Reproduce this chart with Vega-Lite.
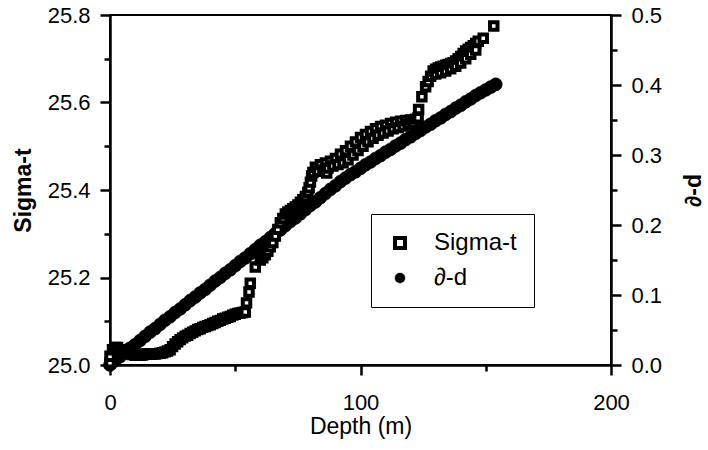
{
  "$schema": "https://vega.github.io/schema/vega-lite/v6.json",
  "autosize": "none",
  "width": 501,
  "height": 350,
  "padding": {"left": 110, "top": 15, "right": 97, "bottom": 85},
  "background": "white",
  "config": {
    "view": {"stroke": "black", "strokeWidth": 2},
    "font": "Liberation Sans",
    "axis": {
      "domainColor": "black", "domainWidth": 2.5, "tickColor": "black", "tickWidth": 2.5,
      "labelFont": "Liberation Sans", "labelFontSize": 22, "labelColor": "black",
      "titleFont": "Liberation Sans", "titleFontSize": 23, "titleColor": "black",
      "grid": false
    }
  },
  "datasets": {
    "sigma": [
      {"depth": 0, "sigma": 25.005}, {"depth": 0, "sigma": 25.02}, {"depth": 1, "sigma": 25.035}, {"depth": 2, "sigma": 25.04},
      {"depth": 3, "sigma": 25.04}, {"depth": 4, "sigma": 25.035}, {"depth": 5, "sigma": 25.03}, {"depth": 6, "sigma": 25.028},
      {"depth": 7, "sigma": 25.026}, {"depth": 8, "sigma": 25.025}, {"depth": 9, "sigma": 25.024}, {"depth": 10, "sigma": 25.022},
      {"depth": 11, "sigma": 25.022}, {"depth": 12, "sigma": 25.022}, {"depth": 13, "sigma": 25.023}, {"depth": 14, "sigma": 25.025},
      {"depth": 15, "sigma": 25.025}, {"depth": 16, "sigma": 25.025}, {"depth": 17, "sigma": 25.025}, {"depth": 18, "sigma": 25.025},
      {"depth": 19, "sigma": 25.026}, {"depth": 20, "sigma": 25.027}, {"depth": 21, "sigma": 25.028}, {"depth": 22, "sigma": 25.03},
      {"depth": 23, "sigma": 25.032}, {"depth": 24, "sigma": 25.035}, {"depth": 25, "sigma": 25.042}, {"depth": 26, "sigma": 25.048},
      {"depth": 27, "sigma": 25.053}, {"depth": 28, "sigma": 25.058}, {"depth": 29, "sigma": 25.062}, {"depth": 30, "sigma": 25.066},
      {"depth": 31, "sigma": 25.068}, {"depth": 32, "sigma": 25.072}, {"depth": 33, "sigma": 25.075}, {"depth": 34, "sigma": 25.078},
      {"depth": 35, "sigma": 25.081}, {"depth": 36, "sigma": 25.083}, {"depth": 37, "sigma": 25.086}, {"depth": 38, "sigma": 25.088},
      {"depth": 39, "sigma": 25.09}, {"depth": 40, "sigma": 25.092}, {"depth": 41, "sigma": 25.095}, {"depth": 42, "sigma": 25.097},
      {"depth": 43, "sigma": 25.1}, {"depth": 44, "sigma": 25.102}, {"depth": 45, "sigma": 25.105}, {"depth": 46, "sigma": 25.107},
      {"depth": 47, "sigma": 25.109}, {"depth": 48, "sigma": 25.111}, {"depth": 49, "sigma": 25.114}, {"depth": 50, "sigma": 25.116},
      {"depth": 51, "sigma": 25.118}, {"depth": 52, "sigma": 25.119}, {"depth": 53, "sigma": 25.12}, {"depth": 54, "sigma": 25.121},
      {"depth": 54.5, "sigma": 25.142}, {"depth": 55.5, "sigma": 25.167}, {"depth": 56, "sigma": 25.187}, {"depth": 58, "sigma": 25.224},
      {"depth": 60, "sigma": 25.24}, {"depth": 61, "sigma": 25.245}, {"depth": 62, "sigma": 25.252}, {"depth": 63, "sigma": 25.26},
      {"depth": 64, "sigma": 25.27}, {"depth": 65, "sigma": 25.28}, {"depth": 66, "sigma": 25.295}, {"depth": 67, "sigma": 25.31},
      {"depth": 68, "sigma": 25.325}, {"depth": 69, "sigma": 25.335}, {"depth": 70, "sigma": 25.345}, {"depth": 71, "sigma": 25.35},
      {"depth": 72, "sigma": 25.353}, {"depth": 73, "sigma": 25.357}, {"depth": 74, "sigma": 25.361}, {"depth": 75, "sigma": 25.366},
      {"depth": 76, "sigma": 25.372}, {"depth": 77, "sigma": 25.378}, {"depth": 78, "sigma": 25.385}, {"depth": 79, "sigma": 25.395},
      {"depth": 79.5, "sigma": 25.405}, {"depth": 80, "sigma": 25.418}, {"depth": 80.5, "sigma": 25.432}, {"depth": 81, "sigma": 25.44},
      {"depth": 82, "sigma": 25.452}, {"depth": 83, "sigma": 25.443}, {"depth": 84, "sigma": 25.458}, {"depth": 85, "sigma": 25.445},
      {"depth": 86, "sigma": 25.462}, {"depth": 86.5, "sigma": 25.439}, {"depth": 87, "sigma": 25.45}, {"depth": 88, "sigma": 25.466},
      {"depth": 89, "sigma": 25.455}, {"depth": 90, "sigma": 25.472}, {"depth": 91, "sigma": 25.458}, {"depth": 92, "sigma": 25.482},
      {"depth": 93, "sigma": 25.462}, {"depth": 94, "sigma": 25.49}, {"depth": 95, "sigma": 25.469}, {"depth": 96, "sigma": 25.5},
      {"depth": 97, "sigma": 25.48}, {"depth": 98, "sigma": 25.51}, {"depth": 99, "sigma": 25.49}, {"depth": 100, "sigma": 25.52},
      {"depth": 101, "sigma": 25.5}, {"depth": 102, "sigma": 25.527}, {"depth": 103, "sigma": 25.51}, {"depth": 104, "sigma": 25.534},
      {"depth": 105, "sigma": 25.518}, {"depth": 106, "sigma": 25.54}, {"depth": 107, "sigma": 25.525}, {"depth": 108, "sigma": 25.545},
      {"depth": 109, "sigma": 25.53}, {"depth": 110, "sigma": 25.548}, {"depth": 111, "sigma": 25.535}, {"depth": 112, "sigma": 25.552},
      {"depth": 113, "sigma": 25.54}, {"depth": 114, "sigma": 25.555}, {"depth": 115, "sigma": 25.543}, {"depth": 116, "sigma": 25.557},
      {"depth": 117, "sigma": 25.546}, {"depth": 118, "sigma": 25.559}, {"depth": 119, "sigma": 25.55}, {"depth": 120, "sigma": 25.56},
      {"depth": 121, "sigma": 25.553}, {"depth": 122, "sigma": 25.562}, {"depth": 123, "sigma": 25.565}, {"depth": 123.2, "sigma": 25.584},
      {"depth": 124.5, "sigma": 25.613}, {"depth": 126, "sigma": 25.636}, {"depth": 127, "sigma": 25.648}, {"depth": 128, "sigma": 25.66},
      {"depth": 129, "sigma": 25.672}, {"depth": 130, "sigma": 25.676}, {"depth": 130, "sigma": 25.665}, {"depth": 131, "sigma": 25.679},
      {"depth": 132, "sigma": 25.681}, {"depth": 132, "sigma": 25.668}, {"depth": 133, "sigma": 25.683}, {"depth": 134, "sigma": 25.685},
      {"depth": 134, "sigma": 25.672}, {"depth": 135, "sigma": 25.687}, {"depth": 136, "sigma": 25.689}, {"depth": 136, "sigma": 25.677},
      {"depth": 137, "sigma": 25.691}, {"depth": 138, "sigma": 25.695}, {"depth": 138, "sigma": 25.683}, {"depth": 139, "sigma": 25.7},
      {"depth": 140, "sigma": 25.705}, {"depth": 140, "sigma": 25.69}, {"depth": 141, "sigma": 25.712}, {"depth": 142, "sigma": 25.718},
      {"depth": 142, "sigma": 25.7}, {"depth": 143, "sigma": 25.722}, {"depth": 144, "sigma": 25.726}, {"depth": 144, "sigma": 25.71},
      {"depth": 145, "sigma": 25.73}, {"depth": 146, "sigma": 25.735}, {"depth": 146, "sigma": 25.72}, {"depth": 147, "sigma": 25.74},
      {"depth": 149, "sigma": 25.747}, {"depth": 153.2, "sigma": 25.775}
    ],
    "dd": [
      {"depth": 0, "dd": 0.0}, {"depth": 2, "dd": 0.006}, {"depth": 4, "dd": 0.012}, {"depth": 6, "dd": 0.018},
      {"depth": 8, "dd": 0.024}, {"depth": 10, "dd": 0.029}, {"depth": 12, "dd": 0.035}, {"depth": 14, "dd": 0.041},
      {"depth": 16, "dd": 0.047}, {"depth": 18, "dd": 0.052}, {"depth": 20, "dd": 0.058}, {"depth": 22, "dd": 0.064},
      {"depth": 24, "dd": 0.069}, {"depth": 26, "dd": 0.075}, {"depth": 28, "dd": 0.08}, {"depth": 30, "dd": 0.086},
      {"depth": 32, "dd": 0.092}, {"depth": 34, "dd": 0.097}, {"depth": 36, "dd": 0.103}, {"depth": 38, "dd": 0.108},
      {"depth": 40, "dd": 0.114}, {"depth": 42, "dd": 0.12}, {"depth": 44, "dd": 0.125}, {"depth": 46, "dd": 0.131},
      {"depth": 48, "dd": 0.136}, {"depth": 50, "dd": 0.142}, {"depth": 52, "dd": 0.148}, {"depth": 54, "dd": 0.153},
      {"depth": 56, "dd": 0.159}, {"depth": 58, "dd": 0.165}, {"depth": 60, "dd": 0.171}, {"depth": 62, "dd": 0.176},
      {"depth": 64, "dd": 0.182}, {"depth": 66, "dd": 0.188}, {"depth": 68, "dd": 0.193}, {"depth": 70, "dd": 0.199},
      {"depth": 72, "dd": 0.205}, {"depth": 74, "dd": 0.21}, {"depth": 76, "dd": 0.216}, {"depth": 78, "dd": 0.222},
      {"depth": 80, "dd": 0.228}, {"depth": 82, "dd": 0.233}, {"depth": 84, "dd": 0.239}, {"depth": 86, "dd": 0.245},
      {"depth": 88, "dd": 0.251}, {"depth": 90, "dd": 0.256}, {"depth": 92, "dd": 0.262}, {"depth": 94, "dd": 0.267},
      {"depth": 96, "dd": 0.272}, {"depth": 98, "dd": 0.276}, {"depth": 100, "dd": 0.281}, {"depth": 102, "dd": 0.286},
      {"depth": 104, "dd": 0.29}, {"depth": 106, "dd": 0.295}, {"depth": 108, "dd": 0.299}, {"depth": 110, "dd": 0.304},
      {"depth": 112, "dd": 0.308}, {"depth": 114, "dd": 0.313}, {"depth": 116, "dd": 0.317}, {"depth": 118, "dd": 0.322},
      {"depth": 120, "dd": 0.326}, {"depth": 122, "dd": 0.331}, {"depth": 124, "dd": 0.335}, {"depth": 126, "dd": 0.34},
      {"depth": 128, "dd": 0.344}, {"depth": 130, "dd": 0.349}, {"depth": 132, "dd": 0.353}, {"depth": 134, "dd": 0.358},
      {"depth": 136, "dd": 0.362}, {"depth": 138, "dd": 0.367}, {"depth": 140, "dd": 0.371}, {"depth": 142, "dd": 0.376},
      {"depth": 144, "dd": 0.38}, {"depth": 146, "dd": 0.385}, {"depth": 148, "dd": 0.389}, {"depth": 150, "dd": 0.393},
      {"depth": 152, "dd": 0.397}, {"depth": 154, "dd": 0.401}
    ]
  },
  "layer": [
    {
      "data": {"name": "dd"},
      "mark": {"type": "point", "filled": true, "size": 170, "opacity": 1},
      "encoding": {
        "x": {"field": "depth", "type": "quantitative",
              "scale": {"domain": [0, 200], "nice": false, "zero": false},
              "axis": {"title": "Depth (m)", "titleFontWeight": "normal", "values": [0, 50, 100, 150, 200],
                       "labelExpr": "datum.value % 100 === 0 ? datum.label : ''",
                       "tickSize": {"condition": {"test": "datum.value % 100 === 0", "value": 10}, "value": 6},
                       "labelPadding": 17, "titlePadding": 2, "labelFlush": false}},
        "y": {"field": "dd", "type": "quantitative",
              "scale": {"domain": [0, 0.5], "nice": false, "zero": false},
              "axis": {"orient": "right", "title": "∂-d", "titleFontWeight": "bold", "titleAngle": 270, "titleBaseline": "bottom",
                       "values": [0, 0.05, 0.1, 0.15, 0.2, 0.25, 0.3, 0.35, 0.4, 0.45, 0.5],
                       "labelExpr": "round(datum.value * 100) % 10 === 0 ? format(datum.value, '.1f') : ''",
                       "tickSize": {"condition": {"test": "round(datum.value * 100) % 10 === 0", "value": 10}, "value": 6},
                       "labelPadding": 10, "titlePadding": 44, "labelFlush": false}},
        "shape": {"datum": "∂-d", "type": "nominal",
                  "scale": {"domain": ["Sigma-t", "∂-d"], "range": ["square", "circle"]},
                  "legend": {"title": null, "orient": "none", "legendX": 261, "legendY": 199,
                             "strokeColor": "black", "fillColor": "white", "padding": 17,
                             "labelFont": "Liberation Sans", "labelFontSize": 24, "labelColor": "black", "labelOffset": 22,
                             "symbolSize": 100, "symbolOffset": 0,
                             "rowPadding": 10,
                             "encode": {"legend": {"update": {"strokeWidth": {"value": 2}}}}}},
        "fill": {"datum": "∂-d", "type": "nominal",
                 "scale": {"domain": ["Sigma-t", "∂-d"], "range": ["white", "black"]}},
        "stroke": {"datum": "∂-d", "type": "nominal",
                   "scale": {"domain": ["Sigma-t", "∂-d"], "range": ["black", "black"]}},
        "strokeWidth": {"datum": "∂-d", "type": "nominal",
                        "scale": {"domain": ["Sigma-t", "∂-d"], "range": [4, 0.5]}}
      }
    },
    {
      "data": {"name": "sigma"},
      "mark": {"type": "point", "filled": false, "size": 56, "opacity": 1},
      "encoding": {
        "x": {"field": "depth", "type": "quantitative"},
        "y": {"field": "sigma", "type": "quantitative",
              "scale": {"domain": [25.0, 25.8], "nice": false, "zero": false},
              "axis": {"orient": "left", "title": "Sigma-t", "titleFontWeight": "bold",
                       "values": [25.0, 25.1, 25.2, 25.3, 25.4, 25.5, 25.6, 25.7, 25.8],
                       "labelExpr": "round(datum.value * 10) % 2 === 0 ? format(datum.value, '.1f') : ''",
                       "tickSize": {"condition": {"test": "round(datum.value * 10) % 2 === 0", "value": 10}, "value": 6},
                       "labelPadding": 10, "titlePadding": 12, "labelFlush": false}},
        "shape": {"datum": "Sigma-t", "type": "nominal"},
        "fill": {"datum": "Sigma-t", "type": "nominal"},
        "stroke": {"datum": "Sigma-t", "type": "nominal"},
        "strokeWidth": {"datum": "Sigma-t", "type": "nominal"}
      }
    }
  ],
  "resolve": {"scale": {"y": "independent"}}
}
